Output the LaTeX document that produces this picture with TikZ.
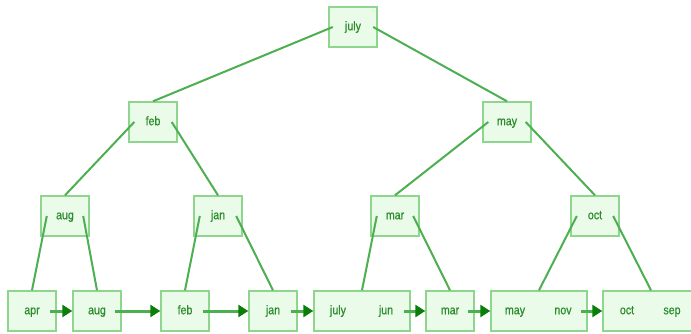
\documentclass[tikz,border=0pt]{standalone}
\usepackage{fontspec}
\setmainfont{Liberation Sans}[FakeStretch=0.85,FakeBold=0.6]
\usetikzlibrary{arrows.meta,calc}
\definecolor{boxfill}{HTML}{EAFBEA}
\definecolor{boxline}{HTML}{8ED68E}
\definecolor{edgec}{HTML}{4CAF50}
\definecolor{txt}{HTML}{2C8C2C}
\definecolor{headc}{HTML}{0A7D0A}
\begin{document}
\begin{tikzpicture}[x=1pt,y=-1pt,
  box/.style={draw=boxline, fill=boxfill, line width=1.4pt, minimum width=48pt, minimum height=40pt, inner sep=0pt},
  wbox/.style={box, minimum width=96pt},
  key/.style={text=txt, font=\fontsize{12.5}{14}\selectfont, minimum width=36pt, inner sep=0pt, text height=9pt, text depth=2.5pt},
  treeedge/.style={draw=edgec, line width=2pt},
  link/.style={draw=edgec, line width=3pt, -{Triangle[length=10pt,width=12pt,color=headc]}}]
\useasboundingbox (0,0) rectangle (691,334);
\clip (0,0) rectangle (691,334);
% boxes
\node[box] (bjuly) at (353,27) {};
\node[box] (bfeb) at (153,122) {};
\node[box] (bmay) at (507,122) {};
\node[box] (baug) at (65,216) {};
\node[box] (bjan) at (218,216) {};
\node[box] (bmar) at (395,216) {};
\node[box] (boct) at (595,216) {};
\node[box] (lapr) at (32,311) {};
\node[box] (laug) at (97,311) {};
\node[box] (lfeb) at (185,311) {};
\node[box] (ljan) at (273,311) {};
\node[wbox] (ljj) at (362,311) {};
\node[box] (lmar) at (450,311) {};
\node[wbox] (lmn) at (539,311) {};
\node[wbox] (los) at (651,311) {};
% keys
\node[key, minimum width=40pt] (kjuly) at (bjuly) {july};
\node[key, minimum width=37pt] (kfeb) at (bfeb) {feb};
\node[key, minimum width=37pt] (kmay) at (bmay) {may};
\node[key] (kaug) at (baug) {aug};
\node[key] (kjan) at (bjan) {jan};
\node[key] (kmar) at (bmar) {mar};
\node[key] (koct) at (boct) {oct};
\node[key] (kapr2) at (lapr) {apr};
\node[key] (kaug2) at (laug) {aug};
\node[key] (kfeb2) at (lfeb) {feb};
\node[key] (kjan2) at (ljan) {jan};
\node[key] (kjuly2) at ($(ljj)+(-24,0)$) {july};
\node[key] (kjun2) at ($(ljj)+(24,0)$) {jun};
\node[key] (kmar2) at (lmar) {mar};
\node[key] (kmay2) at ($(lmn)+(-24,0)$) {may};
\node[key] (knov2) at ($(lmn)+(24,0)$) {nov};
\node[key] (koct2) at ($(los)+(-24,0)$) {oct};
\node[key] (ksep2) at ($(los)+(21,0)$) {sep};
% tree edges
\draw[treeedge] (kjuly.west) -- (bfeb.north);
\draw[treeedge] (kjuly.east) -- (bmay.north);
\draw[treeedge] (kfeb.west) -- (baug.north);
\draw[treeedge] (kfeb.east) -- (bjan.north);
\draw[treeedge] (kmay.west) -- (bmar.north);
\draw[treeedge] (kmay.east) -- (boct.north);
\draw[treeedge] (kaug.west) -- (lapr.north);
\draw[treeedge] (kaug.east) -- (laug.north);
\draw[treeedge] (kjan.west) -- (lfeb.north);
\draw[treeedge] (kjan.east) -- (ljan.north);
\draw[treeedge] (kmar.west) -- (ljj.north);
\draw[treeedge] (kmar.east) -- (lmar.north);
\draw[treeedge] (koct.west) -- (lmn.north);
\draw[treeedge] (koct.east) -- (los.north);
% leaf links
\draw[link] (kapr2.east) -- (laug.west);
\draw[link] (kaug2.east) -- (lfeb.west);
\draw[link] (kfeb2.east) -- (ljan.west);
\draw[link] (kjan2.east) -- (ljj.west);
\draw[link] (kjun2.east) -- (lmar.west);
\draw[link] (kmar2.east) -- (lmn.west);
\draw[link] (knov2.east) -- (los.west);
\end{tikzpicture}
\end{document}
